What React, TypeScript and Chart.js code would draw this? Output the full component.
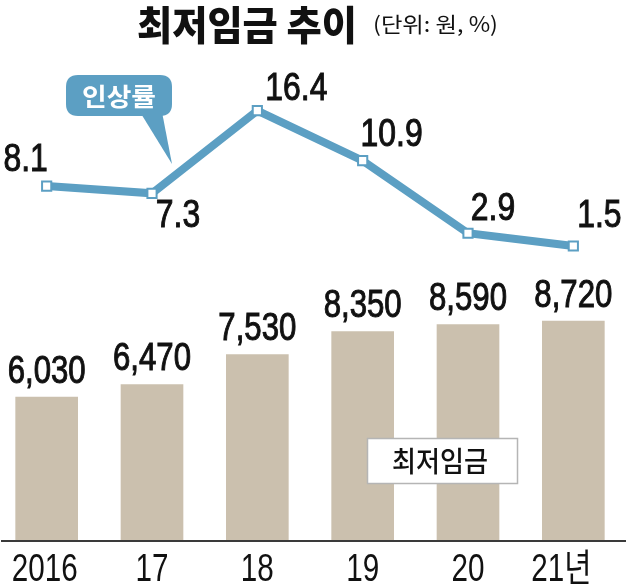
import React, { useEffect, useRef } from "react";
import { Chart, registerables } from "chart.js";

Chart.register(...registerables);

// ---- data ----
const years = ["2016", "17", "18", "19", "20", "21년"];
const wages = [6030, 6470, 7530, 8350, 8590, 8720];
const wageLabels = ["6,030", "6,470", "7,530", "8,350", "8,590", "8,720"];
const rates = [8.1, 7.3, 16.4, 10.9, 2.9, 1.5];
const rateLabels = ["8.1", "7.3", "16.4", "10.9", "2.9", "1.5"];
const titleText = "최저임금 추이";
const unitText = "(단위: 원, %)";
const rateName = "인상률";
const wageName = "최저임금";

// ---- styles ----
const W = 626;
const H = 587;
const OFF = 6; // canvas starts 6px left of the page edge
const LINE_COLOR = "#5c9fc3";
const BAR_COLOR = "#cbc0ae";
const TEXT = "#111111";
const NUM_FONT = '"Liberation Sans", "Noto Sans CJK KR", sans-serif';
const KR_FONT = '"Noto Sans CJK KR", sans-serif';
// label offsets relative to each line point (dx, dy to text centre)
const rateLabelOffsets: [number, number][] = [
  [-21, -29],
  [26, 20],
  [39, -24],
  [29, -28],
  [25, -27],
  [26, -33],
];

function drawNum(ctx: CanvasRenderingContext2D, text: string, cx: number, cy: number, size: number, sx: number, bold = false) {
  ctx.save();
  ctx.font = `${size}px ${NUM_FONT}`;
  ctx.translate(cx, cy + size * 0.358);
  ctx.scale(sx, 1);
  ctx.textAlign = "center";
  ctx.textBaseline = "alphabetic";
  ctx.fillStyle = TEXT;
  ctx.fillText(text, 0, 0);
  if (bold) {
    ctx.strokeStyle = TEXT;
    ctx.lineWidth = 1;
    ctx.strokeText(text, 0, 0);
  }
  ctx.restore();
}

function fitText(ctx: CanvasRenderingContext2D, text: string, x: number, cy: number, font: string, width: number, color: string, align: CanvasTextAlign) {
  ctx.save();
  ctx.font = font;
  const w = ctx.measureText(text).width;
  ctx.translate(x, cy);
  ctx.scale(width / w, 1);
  ctx.textAlign = align;
  ctx.textBaseline = "middle";
  ctx.fillStyle = color;
  ctx.fillText(text, 0, 0);
  ctx.restore();
}

function roundRect(ctx: CanvasRenderingContext2D, x: number, y: number, w: number, h: number, r: number) {
  ctx.beginPath();
  ctx.moveTo(x + r, y);
  ctx.lineTo(x + w - r, y);
  ctx.quadraticCurveTo(x + w, y, x + w, y + r);
  ctx.lineTo(x + w, y + h - r);
  ctx.quadraticCurveTo(x + w, y + h, x + w - r, y + h);
  ctx.lineTo(x + r, y + h);
  ctx.quadraticCurveTo(x, y + h, x, y + h - r);
  ctx.lineTo(x, y + r);
  ctx.quadraticCurveTo(x, y, x + r, y);
  ctx.closePath();
}

const decorPlugin = {
  id: "decor",
  afterDraw(chart: any) {
    const ctx: CanvasRenderingContext2D = chart.ctx;
    const xs = chart.scales.x;
    const yw = chart.scales.yw;
    const yr = chart.scales.yr;

    // axis line
    ctx.save();
    ctx.strokeStyle = "#3a3a3a";
    ctx.lineWidth = 2;
    ctx.beginPath();
    ctx.moveTo(OFF + 1, 541);
    ctx.lineTo(OFF + W, 541);
    ctx.stroke();
    ctx.restore();

    // x labels
    years.forEach((y, i) => {
      const cx = xs.getPixelForValue(i);
      drawNum(ctx, y, cx + (i === 5 ? -12 : i === 0 ? -2 : 0), 567, 38, 0.78);
    });

    // bar value labels
    wages.forEach((v, i) => {
      const cx = xs.getPixelForValue(i);
      const top = yw.getPixelForValue(v);
      drawNum(ctx, wageLabels[i], cx, top - 28, 38, 0.82, true);
    });

    // rate labels
    rates.forEach((v, i) => {
      const cx = xs.getPixelForValue(i);
      const cy = yr.getPixelForValue(v);
      const [dx, dy] = rateLabelOffsets[i];
      drawNum(ctx, rateLabels[i], cx + dx, cy + dy, 38, 0.84, true);
    });

    ctx.save();
    ctx.translate(OFF, 0);

    // callout
    ctx.fillStyle = LINE_COLOR;
    roundRect(ctx, 66, 75, 106, 41, 12);
    ctx.fill();
    ctx.beginPath();
    ctx.moveTo(140, 112);
    ctx.lineTo(172, 164);
    ctx.lineTo(162, 112);
    ctx.closePath();
    ctx.fill();
    fitText(ctx, rateName, 119, 96, `bold 25px ${KR_FONT}`, 74, "#ffffff", "center");

    // legend box
    ctx.fillStyle = "#ffffff";
    ctx.fillRect(367, 438, 151, 46);
    ctx.strokeStyle = "#b5b5b5";
    ctx.lineWidth = 1.5;
    ctx.strokeRect(367.5, 438.5, 150, 45);
    fitText(ctx, wageName, 440, 461, `500 28px ${KR_FONT}`, 96, TEXT, "center");

    // title
    fitText(ctx, titleText, 137, 25, `900 40px ${KR_FONT}`, 220, TEXT, "left");
    fitText(ctx, unitText, 373, 24, `21px ${KR_FONT}`, 125, TEXT, "left");

    ctx.restore();
  },
};

export default function App() {
  const ref = useRef<HTMLCanvasElement>(null);

  useEffect(() => {
    if (!ref.current) return;
    const chart = new Chart(ref.current, {
      type: "bar",
      data: {
        labels: years,
        datasets: [
          {
            type: "line",
            label: rateName,
            data: rates,
            yAxisID: "yr",
            borderColor: LINE_COLOR,
            borderWidth: 8,
            tension: 0,
            pointStyle: "rect",
            pointRadius: 6.5,
            pointBackgroundColor: "#ffffff",
            pointBorderColor: LINE_COLOR,
            pointBorderWidth: 2,
            order: 0,
          } as any,
          {
            type: "bar",
            label: wageName,
            data: wages,
            yAxisID: "yw",
            backgroundColor: BAR_COLOR,
            barThickness: 62,
            order: 1,
          },
        ],
      },
      options: {
        responsive: false,
        animation: false,
        layout: { autoPadding: false, padding: { top: 0, bottom: 46, left: 0, right: 0 } },
        plugins: { legend: { display: false }, tooltip: { enabled: false } },
        scales: {
          x: { display: false, offset: true, grid: { display: false } },
          yw: { display: false, min: 933, max: 20083 },
          yr: { display: false, min: -30.99, max: 28.59 },
        },
      } as any,
      plugins: [decorPlugin],
    });
    return () => chart.destroy();
  }, []);

  return (
    <div style={{ position: "absolute", left: 0, top: 0, width: W, height: H, overflow: "hidden", background: "#fff" }}>
      <canvas
        ref={ref}
        width={W + OFF}
        height={H}
        style={{ position: "absolute", left: -OFF, top: 0, width: W + OFF, height: H, display: "block" }}
      />
    </div>
  );
}
